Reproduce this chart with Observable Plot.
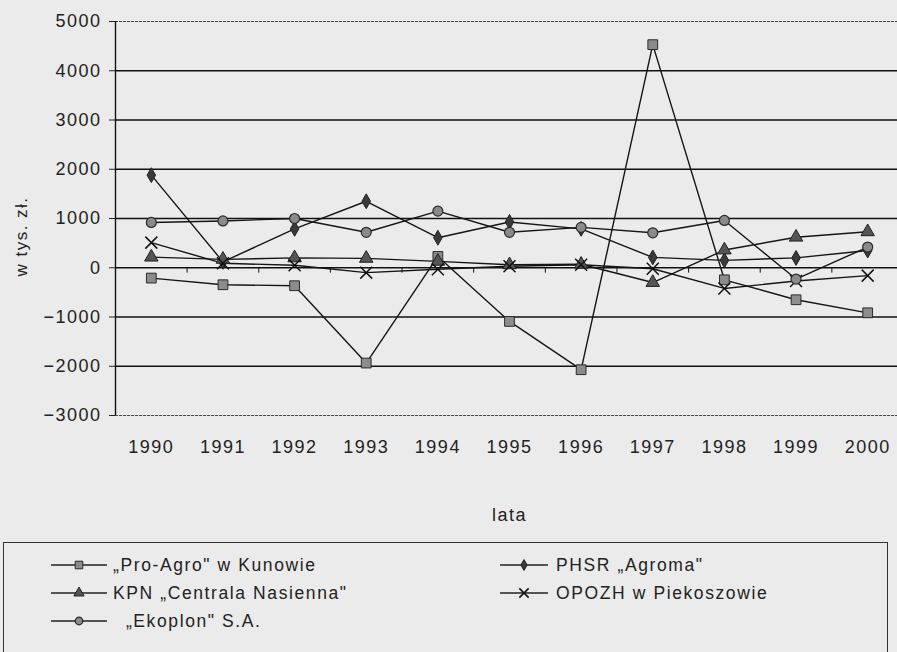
<!DOCTYPE html>
<html><head><meta charset="utf-8">
<script src="https://cdn.jsdelivr.net/npm/d3@7"></script>
<script src="https://cdn.jsdelivr.net/npm/@observablehq/plot@0.6"></script>
<style>
body{margin:0;background:#ebebeb;font-family:"Liberation Sans",Arial,sans-serif;}
#wrap{position:relative;width:897px;height:652px;overflow:hidden;background:#ebebeb;}
#chart svg{display:block;background:transparent;}
#chart svg text{letter-spacing:1.5px;}
#legend{position:absolute;left:3px;top:542px;width:885px;height:130px;border:1px solid #333;box-sizing:border-box;}
.item{position:absolute;display:flex;align-items:center;font-size:17.5px;letter-spacing:1.6px;color:#222;white-space:pre;height:20px;}
.item svg{display:block;}
</style></head><body>
<div id="wrap"><div id="chart"></div><div id="legend"></div></div>
<script>
const years = [1990, 1991, 1992, 1993, 1994, 1995, 1996, 1997, 1998, 1999, 2000];
const seriesNames = ["„Pro-Agro\" w Kunowie", "PHSR „Agroma\"", "KPN „Centrala Nasienna\"", "OPOZH w Piekoszowie", "„Ekoplon\" S.A."];
const proAgro = [-210, -345, -365, -1935, 230, -1090, -2070, 4530, -245, -650, -915];
const agroma  = [1880, 120, 790, 1350, 610, 930, 790, 210, 150, 200, 350];
const kpn     = [215, 170, 200, 190, 130, 60, 70, -300, 360, 620, 730];
const opozh   = [510, 90, 50, -100, -30, 30, 60, -20, -420, -270, -160];
const ekoplon = [920, 950, 1000, 720, 1150, 720, 820, 710, 960, -230, 420];
const yTicks = [-3000, -2000, -1000, 0, 1000, 2000, 3000, 4000, 5000];
const yTitle = "w tys. zł.";
const xTitle = "lata";

const seriesValues = [proAgro, agroma, kpn, opozh, ekoplon];
const styles = [
  {symbol: "square",   fill: "#8c8c8c", stroke: "#2a2a2a", r: 5.5, sw: 1},
  {symbol: "diamond",  fill: "#3a3a3a", stroke: "#222",    r: 4.5, sw: 1},
  {symbol: "triangle", fill: "#555",    stroke: "#222",    r: 5,   sw: 1},
  {symbol: "times",    fill: "none",    stroke: "#111",    r: 5.5, sw: 1.5},
  {symbol: "circle",   fill: "#8a8a8a", stroke: "#2a2a2a", r: 5,   sw: 1.2}
];

const rows = seriesNames.flatMap((name, k) => years.map((yr, i) => ({series: name, k, year: yr, value: seriesValues[k][i]})));
const xDomain = [years[0] - 0.5, years[years.length - 1] + 0.5];
const gridSolid = yTicks.slice(1, -1);
const gridEdge = [yTicks[0], yTicks[yTicks.length - 1]];
const boundaries = years.slice(1).map(y => y - 0.5);

const dotMarks = styles.map((s, k) => Plot.dot(rows.filter(d => d.k === k), {
  x: "year", y: "value", symbol: () => s.symbol, r: s.r,
  fill: s.fill === "none" ? null : s.fill, stroke: s.stroke, strokeWidth: s.sw
}));

const chart = Plot.plot({
  width: 897, height: 540,
  marginLeft: 115, marginRight: 0, marginTop: 21, marginBottom: 125,
  style: {background: "transparent", fontFamily: "'Liberation Sans', Arial, sans-serif", color: "#222"},
  x: {type: "linear", domain: xDomain, range: [115, 903]},
  y: {domain: [yTicks[0], yTicks[yTicks.length - 1]]},
  symbol: {type: "identity"},
  marks: [
    Plot.ruleY(gridSolid, {stroke: "#111", strokeWidth: 1.4}),
    Plot.ruleY(gridEdge, {stroke: "#444", strokeWidth: 1, strokeDasharray: "3,1"}),
    Plot.ruleX(boundaries, {y1: 0, y2: -110, stroke: "#111", strokeWidth: 1}),
    Plot.ruleX([xDomain[0]], {stroke: "#111", strokeWidth: 1.4}),
    Plot.axisY({ticks: yTicks, tickFormat: d3.format("d"), tickSize: 6, tickPadding: 8, fontSize: 18, label: null}),
    Plot.axisX({ticks: years, tickFormat: d => String(d), tickSize: 0, tickPadding: 25, fontSize: 18, label: null}),
    Plot.text([yTitle], {frameAnchor: "left", textAnchor: "middle", rotate: -90, dx: -94, dy: 18, fontSize: 17, text: d => d}),
    Plot.text([xTitle], {frameAnchor: "bottom", dy: 105, fontSize: 18, x: () => (xDomain[0] + xDomain[1]) / 2, text: d => d}),
    Plot.line(rows, {x: "year", y: "value", z: "series", stroke: "#151515", strokeWidth: 1.4}),
    ...dotMarks
  ]
});
document.getElementById("chart").appendChild(chart);

// Legend
const legend = document.getElementById("legend");
const symMap = {square: d3.symbolSquare, diamond: d3.symbolDiamond, triangle: d3.symbolTriangle, times: d3.symbolTimes, circle: d3.symbolCircle};
const pos = [
  {left: 47, top: 12, lineW: 56, gap: 6}, {left: 496, top: 12, lineW: 48, gap: 8},
  {left: 47, top: 40, lineW: 56, gap: 6}, {left: 496, top: 40, lineW: 48, gap: 8},
  {left: 47, top: 68, lineW: 56, gap: 6}
];
seriesNames.forEach((name, k) => {
  const s = styles[k], p = pos[k];
  const div = document.createElement("div");
  div.className = "item";
  div.style.left = p.left + "px";
  div.style.top = p.top + "px";
  const w = p.lineW, h = 20;
  const svg = d3.create("svg").attr("width", w).attr("height", h).style("margin-right", p.gap + "px");
  svg.append("line").attr("x1", 0).attr("x2", w).attr("y1", h / 2).attr("y2", h / 2).attr("stroke", "#222").attr("stroke-width", 1.4);
  svg.append("path").attr("transform", `translate(${w / 2},${h / 2})`)
    .attr("d", d3.symbol(symMap[s.symbol], Math.PI * (s.r - 1.2) * (s.r - 1.2))())
    .attr("fill", s.fill).attr("stroke", s.stroke).attr("stroke-width", s.sw);
  div.appendChild(svg.node());
  const span = document.createElement("span");
  span.textContent = (k === 4 ? "  " : "") + name;
  div.appendChild(span);
  legend.appendChild(div);
});
</script>
</body></html>
